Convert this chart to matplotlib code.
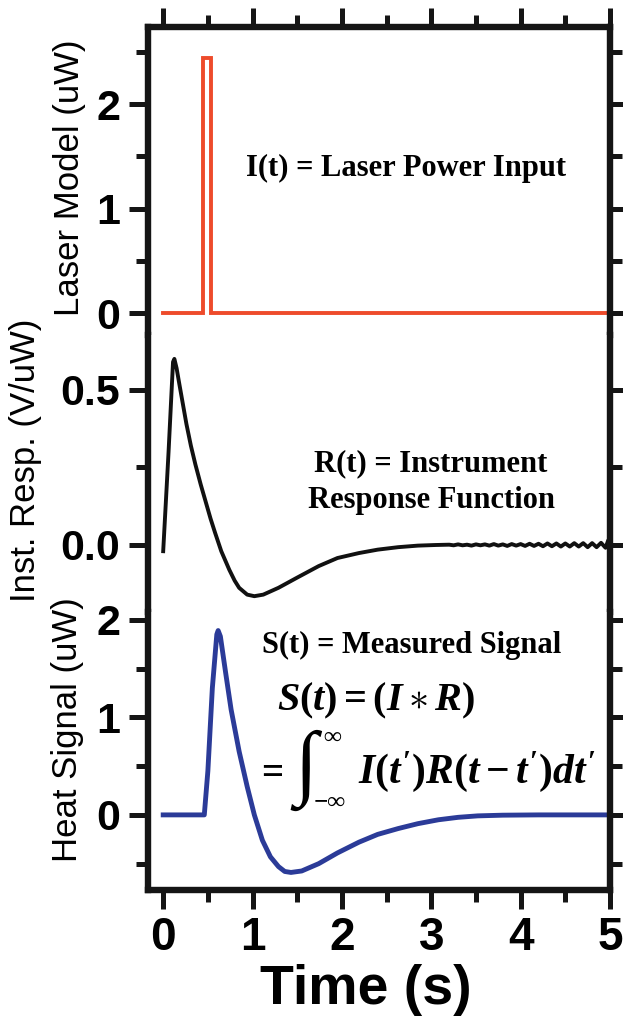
import numpy as np
import matplotlib
matplotlib.use('Agg')
import matplotlib.pyplot as plt
from matplotlib.ticker import MultipleLocator, FormatStrFormatter

# DATA
laser_t = [0.0, 0.44, 0.44, 0.54, 0.54, 5.0]
laser_p = [0.0, 0.0, 2.44, 2.44, 0.0, 0.0]

resp_t = [0.00, 0.06, 0.11, 0.125, 0.15, 0.18, 0.22, 0.26, 0.31, 0.36, 0.42, 0.47,
          0.53, 0.58, 0.65, 0.74, 0.80, 0.85, 0.94, 1.02, 1.12, 1.29, 1.50, 1.74,
          1.95, 2.19, 2.40, 2.63, 2.85, 3.05, 3.20, 3.25, 3.30, 3.35, 3.40, 3.45,
          3.50, 3.55, 3.60, 3.65, 3.70, 3.75, 3.80, 3.85, 3.90, 3.95, 4.00, 4.05,
          4.10, 4.15, 4.20, 4.25, 4.30, 4.35, 4.40, 4.45, 4.50, 4.55, 4.60, 4.65,
          4.70, 4.75, 4.80, 4.85, 4.90, 4.95, 4.98, 5.00]
resp_v = [-0.02, 0.30, 0.59, 0.60, 0.57, 0.52, 0.455, 0.39, 0.32, 0.26, 0.195, 0.145,
          0.085, 0.04, -0.02, -0.08, -0.115, -0.138, -0.160, -0.165, -0.160, -0.138, -0.105, -0.068,
          -0.042, -0.026, -0.015, -0.007, -0.002, 0.0, 0.001, -0.001, 0.002, -0.001, 0.001, -0.002,
          0.002, -0.001, 0.002, -0.002, 0.003, -0.002, 0.002, -0.003, 0.003, -0.002, 0.003, -0.003,
          0.004, -0.003, 0.004, -0.004, 0.005, -0.004, 0.005, -0.005, 0.005, -0.005, 0.006, -0.005,
          0.006, -0.007, 0.006, -0.007, 0.007, -0.009, 0.015, 0.004]

sig_t = [0.00, 0.46, 0.50, 0.55, 0.60, 0.615, 0.64, 0.70, 0.76, 0.85, 0.94, 1.02,
         1.11, 1.20, 1.29, 1.36, 1.43, 1.55, 1.74, 1.95, 2.19, 2.40, 2.63, 2.85,
         3.08, 3.30, 3.52, 3.80, 4.20, 5.00]
sig_v = [0.0, 0.0, 0.45, 1.30, 1.85, 1.89, 1.83, 1.45, 1.08, 0.65, 0.29, 0.0,
         -0.26, -0.43, -0.53, -0.58, -0.59, -0.575, -0.50, -0.39, -0.28, -0.20, -0.14, -0.09,
         -0.05, -0.025, -0.01, -0.003, 0.0, 0.0]

x_ticks = [0, 1, 2, 3, 4, 5]

plt.rcParams['font.family'] = ['Liberation Sans', 'DejaVu Sans']
plt.rcParams['mathtext.fontset'] = 'custom'
plt.rcParams['mathtext.it'] = 'Liberation Serif:italic:bold'
plt.rcParams['mathtext.rm'] = 'Liberation Serif:bold'
plt.rcParams['mathtext.bf'] = 'Liberation Serif:bold'

W, H = 623, 1018
fig = plt.figure(figsize=(W / 100, H / 100), dpi=100)


def box(top, bottom):
    # axes rectangle from pixel rows of the picture
    return [148 / W, 1 - bottom / H, 462 / W, (bottom - top) / H]


ax1 = fig.add_axes(box(27, 335))
ax2 = fig.add_axes(box(335, 612))
ax3 = fig.add_axes(box(612, 890))
axes = [ax1, ax2, ax3]

ax1.plot(laser_t, laser_p, color='#ee4b2b', lw=2.8, solid_joinstyle='miter')
ax2.plot(resp_t, resp_v, color='#111111', lw=2.8)
ax3.plot(sig_t, sig_v, color='#2b3b98', lw=3.5)

ax1.set_ylim(-0.21, 2.74)
ax2.set_ylim(-0.216, 0.677)
ax3.set_ylim(-0.77, 2.08)

for ax in axes:
    ax.set_xlim(-0.17, 5.0)
    ax.xaxis.set_major_locator(MultipleLocator(1))
    ax.xaxis.set_minor_locator(MultipleLocator(0.5))
    for s in ax.spines.values():
        s.set_linewidth(4.6)
        s.set_color('#151515')
    ax.tick_params(which='both', direction='out', width=3.6, color='#151515',
                   left=True, right=True, top=False, bottom=False,
                   labelbottom=False, labeltop=False)
    ax.tick_params(which='major', length=14)
    ax.tick_params(which='minor', length=8.5)
    ax.tick_params(axis='y', labelsize=31, pad=6)

ax1.spines['bottom'].set_visible(False)
ax2.spines['top'].set_visible(False)
ax2.spines['bottom'].set_visible(False)
ax3.spines['top'].set_visible(False)

ax1.tick_params(axis='x', which='both', top=True)
ax3.tick_params(axis='x', which='both', bottom=True, labelbottom=True,
                labelsize=33, pad=5)
ax3.set_xticks(x_ticks)
ax3.set_xticklabels([str(v) for v in x_ticks], fontweight='bold')

ax1.yaxis.set_major_locator(MultipleLocator(1))
ax1.yaxis.set_minor_locator(MultipleLocator(0.5))
ax2.yaxis.set_major_locator(MultipleLocator(0.5))
ax2.yaxis.set_minor_locator(MultipleLocator(0.25))
ax2.yaxis.set_major_formatter(FormatStrFormatter('%.1f'))
ax3.yaxis.set_major_locator(MultipleLocator(1))
ax3.yaxis.set_minor_locator(MultipleLocator(0.5))
for ax in axes:
    for lab in ax.get_yticklabels():
        lab.set_fontweight('bold')


def ftext(x, y, s, **kw):
    return fig.text(x / W, 1 - y / H, s, transform=fig.transFigure, **kw)


# axis labels
ftext(70, 178, 'Laser Model (uW)', rotation=90, fontsize=25, ha='center', va='center')
ftext(26, 460, 'Inst. Resp. (V/uW)', rotation=90, fontsize=25, ha='center', va='center')
ftext(67, 730, 'Heat Signal (uW)', rotation=90, fontsize=25, ha='center', va='center')
ftext(366, 990, 'Time (s)', fontsize=40, fontweight='bold', ha='center', va='center')

# annotations
serif = ['Liberation Serif', 'DejaVu Serif']
ftext(406, 168, 'I(t) = Laser Power Input', family=serif, fontweight='bold',
      fontsize=22, ha='center', va='center')
ftext(431, 482, 'R(t) = Instrument\nResponse Function', family=serif, fontweight='bold',
      fontsize=22, ha='center', va='center', linespacing=1.35)
ftext(412, 645, 'S(t) = Measured Signal', family=serif, fontweight='bold',
      fontsize=22, ha='center', va='center')

# convolution formula
ftext(376, 701, r'$S(t) = (I \ast R)$', fontsize=29, ha='center', va='center')
ftext(269, 772, r'$=$', fontsize=28, ha='center', va='center')
ftext(306, 770, '\u222b', family=serif, fontsize=60, ha='center', va='center',
      fontstyle='italic')
ftext(332, 737, '\u221e', family=serif, fontsize=18, ha='center', va='center', fontweight='bold')
ftext(330, 802, '\u2212\u221e', family=serif, fontsize=18, ha='center', va='center', fontweight='bold')
ftext(477, 772, r"$I(t')R(t - t')dt'$", fontsize=30, ha='center', va='center')

fig.savefig('out.png', dpi=100)
